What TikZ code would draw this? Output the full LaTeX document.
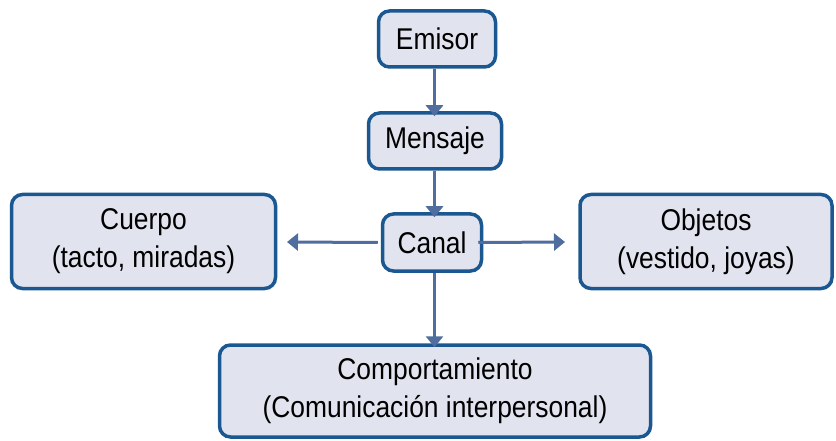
\documentclass[tikz,border=0pt]{standalone}
\usepackage{fontspec}
\setmainfont[FakeStretch=0.88]{Liberation Sans}
\usetikzlibrary{arrows.meta}
\definecolor{boxborder}{HTML}{1B5790}
\definecolor{boxfill}{HTML}{E1E4EE}
\definecolor{arrowcol}{HTML}{4F6D9E}
\tikzset{
  flowbox/.style={draw=boxborder, fill=boxfill, line width=3.5pt, rounded corners=11pt,
    inner sep=0pt, align=center, font=\fontsize{30}{38}\selectfont, text=black},
  flowarrow/.style={draw=arrowcol, line width=3pt, -{Triangle[length=11pt,width=17pt]}}
}
\begin{document}
\begin{tikzpicture}[x=1pt,y=-1pt]
\useasboundingbox (0,0) rectangle (836,441);
\node[flowbox, minimum width=117pt, minimum height=56pt] (emisor) at (437,39) {Emisor};
\node[flowbox, minimum width=133pt, minimum height=56pt] (mensaje) at (435,141) {Mensaje};
\node[flowbox, minimum width=99pt, minimum height=57pt] (canal) at (432,242.5) {Canal};
\node[flowbox, minimum width=264pt, minimum height=94pt] (cuerpo) at (143.5,241.5) {Cuerpo\\(tacto, miradas)};
\node[flowbox, minimum width=252pt, minimum height=94pt] (objetos) at (706,241.5) {Objetos\\(vestido, joyas)};
\node[flowbox, minimum width=431pt, minimum height=92pt] (comport) at (435,391) {Comportamiento\\(Comunicación interpersonal)};
\coordinate (axis) at (434.5,0);
\coordinate (leftend) at (287,242);
\coordinate (rightend) at (565,242);
\draw[flowarrow] (emisor.south -| axis) -- ([yshift=-5pt]mensaje.north -| axis);
\draw[flowarrow] (mensaje.south -| axis) -- ([yshift=-5pt]canal.north -| axis);
\draw[flowarrow] ([xshift=-3pt]canal.west) -- (leftend);
\draw[flowarrow] ([xshift=-5pt]canal.east) -- (rightend);
\draw[flowarrow] (canal.south -| axis) -- ([yshift=-4pt]comport.north -| axis);
\end{tikzpicture}
\end{document}
